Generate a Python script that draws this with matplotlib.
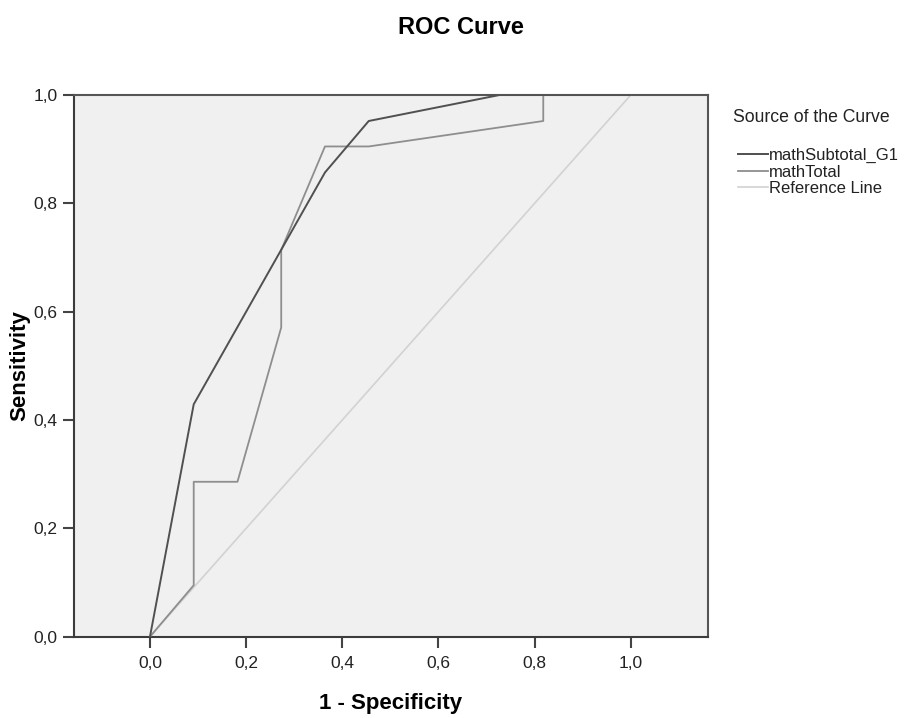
import matplotlib
matplotlib.use("Agg")
import matplotlib.pyplot as plt
from matplotlib.ticker import FuncFormatter

plt.rcParams['font.family'] = ['Liberation Sans', 'DejaVu Sans']

# ROC points (1 - specificity, sensitivity)
fpr_sub = [0.0, 0.091, 0.364, 0.455, 0.727, 1.0]
tpr_sub = [0.0, 0.429, 0.857, 0.952, 1.0, 1.0]

fpr_tot = [0.0, 0.091, 0.091, 0.182, 0.273, 0.273, 0.364, 0.455, 0.818, 0.818, 1.0]
tpr_tot = [0.0, 0.095, 0.286, 0.286, 0.571, 0.714, 0.905, 0.905, 0.952, 1.0, 1.0]

ref_x = [0.0, 1.0]
ref_y = [0.0, 1.0]

labels = ['mathSubtotal_G1', 'mathTotal', 'Reference Line']
ticks = [0.0, 0.2, 0.4, 0.6, 0.8, 1.0]

W, H = 912, 718
fig = plt.figure(figsize=(W / 100, H / 100), dpi=100)
ax = fig.add_axes([74 / W, 1 - 636.7 / H, (707.7 - 74) / W, (636.7 - 95) / H])
ax.set_facecolor('#f0f0f0')

ax.plot(ref_x, ref_y, color='#d2d2d2', lw=1.2, label=labels[2], zorder=2)
ax.plot(fpr_tot, tpr_tot, color='#8e8e8e', lw=1.3, label=labels[1], zorder=3)
ax.plot(fpr_sub, tpr_sub, color='#505050', lw=1.4, label=labels[0], zorder=4)

ax.set_xlim(-0.158, 1.16)
ax.set_ylim(0, 1.0)
ax.set_xticks(ticks)
ax.set_yticks(ticks)
fmt = FuncFormatter(lambda v, p: ('%.1f' % v).replace('.', ','))
ax.xaxis.set_major_formatter(fmt)
ax.yaxis.set_major_formatter(fmt)
ax.tick_params(length=8, width=1.5, color='#444444', labelsize=12.5, labelcolor='#222222', pad=4)
ax.tick_params(axis='x', pad=6)

for s in ax.spines.values():
    s.set_color('#555555')
    s.set_linewidth(1.5)
ax.spines['left'].set_color('#3c3c3c')
ax.spines['bottom'].set_color('#3c3c3c')

ax.set_xlabel('1 - Specificity', fontsize=16, fontweight='bold', labelpad=16)
ax.set_ylabel('Sensitivity', fontsize=16, fontweight='bold', labelpad=2)

fig.text(461 / W, 1 - 28 / H, 'ROC Curve', ha='center', va='center', fontsize=17, fontweight='bold')

fig.text(733 / W, 1 - 117 / H, 'Source of the Curve', ha='left', va='center', fontsize=12.7, color='#222222')
h, l = ax.get_legend_handles_labels()
order = [2, 1, 0]
leg = fig.legend([h[i] for i in order], [l[i] for i in order], loc='upper left',
                 bbox_to_anchor=(738 / W, 1 - 148 / H), frameon=False, borderpad=0,
                 borderaxespad=0, fontsize=12, handlelength=1.8, handletextpad=0.05,
                 labelspacing=0.09)
for t in leg.get_texts():
    t.set_color('#222222')

fig.savefig('out.png', dpi=100)
